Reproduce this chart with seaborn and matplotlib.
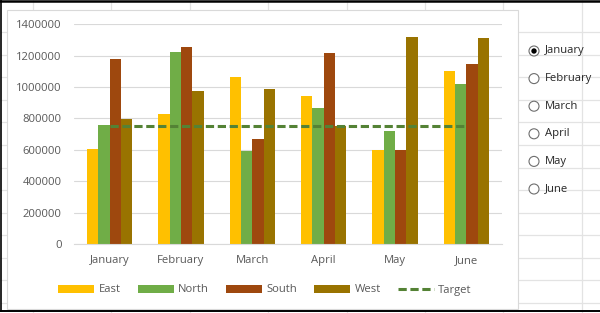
import numpy as np
import pandas as pd
import matplotlib
matplotlib.use("Agg")
import matplotlib.pyplot as plt
import seaborn as sns
from matplotlib.patches import Rectangle, Circle, Patch
from matplotlib.lines import Line2D
from matplotlib.ticker import FuncFormatter, MultipleLocator

# ------------------------------------
# DATA
# ------------------------------------
months = ["January", "February", "March", "April", "May", "June"]
regions = ["East", "North", "South", "West"]

east = [606000, 829000, 1063000, 944000, 598000, 1105000]
north = [757000, 1222000, 594000, 869000, 717000, 1022000]
south = [1181000, 1256000, 668000, 1215000, 600000, 1147000]
west = [799000, 974000, 988000, 755000, 1319000, 1311000]
target = [750000, 750000, 750000, 750000, 750000, 750000]

selected_month = "January"

# ------------------------------------
# STYLE
# ------------------------------------
palette = {"East": "#FFC000", "North": "#70AD47", "South": "#9E480E", "West": "#997300"}
TARGET_COLOR = "#548235"
TEXT_COLOR = "#595959"
GRID_COLOR = "#D9D9D9"
SHEET_COLOR = "#E3E3E3"
TARGET_DASH = (0, (2.7, 1.2))
FONT_SIZE = 8.1

sns.set_theme(style="white")
plt.rcParams["font.family"] = ["Open Sans", "DejaVu Sans"]

df = pd.DataFrame({"Month": months, "East": east, "North": north,
                   "South": south, "West": west})
df = df.melt(id_vars="Month", var_name="Region", value_name="Sales")

fig = plt.figure(figsize=(6, 3.13), dpi=100)
fig.patch.set_facecolor("white")

# background "spreadsheet" layer in pixel coordinates
bg = fig.add_axes([0, 0, 1, 1])
bg.set_xlim(0, 600)
bg.set_ylim(313, 0)
bg.axis("off")

bg.vlines(np.arange(33, 600, 78.4), 0, 313, color=SHEET_COLOR, lw=0.9, zorder=1)
bg.hlines(np.linspace(32, 303, 13), 0, 600, color=SHEET_COLOR, lw=0.9, zorder=1)

# chart area
bg.add_patch(Rectangle((7, 10), 511, 299, facecolor="white",
                       edgecolor=GRID_COLOR, lw=0.8, zorder=3))

# outer black frame
bg.plot([0, 600], [1, 1], color="black", lw=1.8, zorder=5)
bg.plot([0.7, 0.7], [0, 311], color="black", lw=1.2, zorder=5)
bg.plot([0, 600], [311, 311], color="black", lw=1.4, zorder=5)

# radio buttons (option controls)
for i, m in enumerate(months):
    yy = 51 + i * 27.6
    bg.add_patch(Circle((534, yy), 5, facecolor="white", edgecolor="#6E6E6E",
                        lw=0.8, zorder=4))
    if m == selected_month:
        bg.add_patch(Circle((534, yy), 2.7, facecolor="black", edgecolor="none", zorder=5))
    bg.text(545, yy, m, ha="left", va="center", fontsize=FONT_SIZE, color="#262626", zorder=5)

# ------------------------------------
# MAIN CHART
# ------------------------------------
ax = fig.add_axes([74 / 600, 1 - 244 / 313, (502 - 74) / 600, (244 - 24.3) / 313])
ax.set_zorder(2)
ax.patch.set_alpha(0)

sns.barplot(data=df, x="Month", y="Sales", hue="Region", order=months,
            hue_order=regions, palette=palette, width=0.64, saturation=1,
            linewidth=0, edgecolor="none", legend=False, ax=ax)

sns.lineplot(x=np.arange(len(months)), y=target, color=TARGET_COLOR,
             lw=2.2, linestyle=TARGET_DASH, ax=ax)

ax.set_xlim(-0.5, len(months) - 0.5)
ax.set_ylim(0, 1400000)
ax.yaxis.set_major_locator(MultipleLocator(200000))
ax.yaxis.set_major_formatter(FuncFormatter(lambda v, p: f"{int(v)}"))
ax.set_xticks(np.arange(len(months)))
ax.set_xticklabels(months)
ax.set_xlabel("")
ax.set_ylabel("")

ax.grid(True, axis="y", color=GRID_COLOR, lw=0.8)
ax.set_axisbelow(True)
for side in ["top", "right", "left"]:
    ax.spines[side].set_visible(False)
ax.spines["bottom"].set_color(GRID_COLOR)
ax.spines["bottom"].set_linewidth(0.8)

ax.tick_params(axis="y", length=0, pad=9, labelsize=FONT_SIZE, labelcolor=TEXT_COLOR)
ax.tick_params(axis="x", length=0, pad=8, labelsize=FONT_SIZE, labelcolor=TEXT_COLOR)

# ------------------------------------
# LEGEND
# ------------------------------------
handles = [Patch(facecolor=palette[r], edgecolor="none") for r in regions]
handles.append(Line2D([0], [0], color=TARGET_COLOR, lw=2.2, linestyle=TARGET_DASH))
labels = regions + ["Target"]

fig.legend(handles, labels, loc="center", bbox_to_anchor=(265 / 600, 1 - 290 / 313),
           ncol=5, frameon=False, fontsize=FONT_SIZE, handlelength=3.2,
           handleheight=0.7, handletextpad=0.4, columnspacing=1.5,
           labelcolor=TEXT_COLOR)

fig.savefig("out.png", dpi=100)
